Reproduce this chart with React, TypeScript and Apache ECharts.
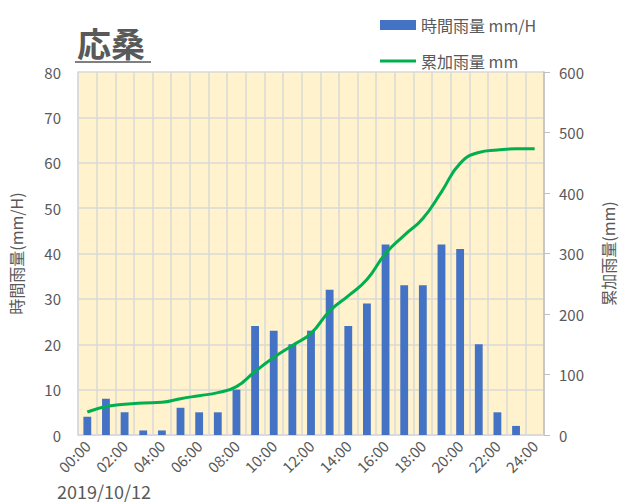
import React, { useEffect, useRef } from "react";
import * as echarts from "echarts";

const hours = [
  "00:00", "01:00", "02:00", "03:00", "04:00", "05:00", "06:00", "07:00", "08:00",
  "09:00", "10:00", "11:00", "12:00", "13:00", "14:00", "15:00", "16:00", "17:00",
  "18:00", "19:00", "20:00", "21:00", "22:00", "23:00", "24:00",
];
const hourlyRain = [4, 8, 5, 1, 1, 6, 5, 5, 10, 24, 23, 20, 23, 32, 24, 29, 42, 33, 33, 42, 41, 20, 5, 2, null];
const cumulativeRain = [38, 47, 51, 53, 54, 60, 65, 70, 80, 105, 128, 148, 168, 205, 230, 257, 300, 330, 358, 402, 449, 467, 471, 473, 473];

const FONT = '"Noto Sans CJK JP", "Noto Sans", sans-serif';
const GRAY = "#595959";
const GRID = "#d9d9d9";

export default function App() {
  const ref = useRef<HTMLDivElement>(null);
  useEffect(() => {
    if (!ref.current) return;
    const chart = echarts.init(ref.current, null, { renderer: "svg" });
    chart.setOption({
      animation: false,
      backgroundColor: "#ffffff",
      textStyle: { fontFamily: FONT },
      title: {
        text: "応桑",
        left: 72,
        top: 20,
        textStyle: { fontFamily: FONT, fontSize: 34, fontWeight: "bold", color: GRAY },
      },
      graphic: [
        { type: "rect", shape: { x: 75, y: 61, width: 76, height: 2 }, style: { fill: "#7f7f7f" } },
        {
          type: "text",
          x: 57,
          y: 481,
          style: { text: "2019/10/12", font: `18px ${FONT}`, fill: GRAY, verticalAlign: "top", lineHeight: 20 },
        },
      ],
      legend: [
        {
          data: [{ name: "時間雨量 mm/H", icon: "rect" }],
          left: 380,
          top: 17,
          padding: 0,
          itemWidth: 36,
          itemHeight: 10,
          itemGap: 4,
          textStyle: { fontFamily: FONT, fontSize: 16, color: GRAY, padding: [0, 0, 0, 0] },
        },
        {
          data: [{ name: "累加雨量 mm", icon: "path://M0,0H36V3H0Z" }],
          left: 380,
          top: 53,
          padding: 0,
          itemWidth: 36,
          itemHeight: 3,
          itemGap: 4,
          textStyle: { fontFamily: FONT, fontSize: 16, color: GRAY },
        },
      ],
      grid: {
        left: 70,
        right: 80,
        top: 72,
        bottom: 69,
        show: true,
        backgroundColor: "#fff2cc",
        borderWidth: 0,
      },
      xAxis: {
        type: "category",
        data: hours,
        boundaryGap: true,
        axisLine: { show: true, lineStyle: { color: GRID, width: 1.5 } },
        axisTick: { show: false },
        splitLine: { show: true, interval: 0, lineStyle: { color: GRID, width: 1.5 } },
        axisLabel: {
          interval: 1,
          rotate: 45,
          color: GRAY,
          fontSize: 15,
          fontFamily: FONT,
          margin: 8,
        },
      },
      yAxis: [
        {
          type: "value",
          min: 0,
          max: 80,
          interval: 10,
          name: "時間雨量(mm/H)",
          nameLocation: "middle",
          nameRotate: 90,
          nameGap: 54,
          nameTextStyle: { color: GRAY, fontSize: 16, fontFamily: FONT },
          axisLine: { show: true, lineStyle: { color: GRID, width: 1.5 } },
          axisTick: { show: false },
          splitLine: { show: true, lineStyle: { color: GRID, width: 1.5 } },
          axisLabel: { color: GRAY, fontSize: 15, fontFamily: FONT, margin: 17 },
        },
        {
          type: "value",
          min: 0,
          max: 600,
          interval: 100,
          position: "right",
          name: "累加雨量(mm)",
          nameLocation: "middle",
          nameRotate: 90,
          nameGap: 56,
          nameTextStyle: { color: GRAY, fontSize: 16, fontFamily: FONT },
          axisLine: { show: true, lineStyle: { color: "#bfbfbf", width: 1.5 } },
          axisTick: { show: true, length: 6, lineStyle: { color: "#bfbfbf" } },
          splitLine: { show: false },
          axisLabel: { color: GRAY, fontSize: 15, fontFamily: FONT, margin: 15 },
        },
      ],
      series: [
        {
          name: "時間雨量 mm/H",
          type: "bar",
          data: hourlyRain,
          barWidth: "42%",
          itemStyle: { color: "#4472c4" },
        },
        {
          name: "累加雨量 mm",
          type: "line",
          yAxisIndex: 1,
          data: cumulativeRain,
          smooth: true,
          symbol: "none",
          lineStyle: { color: "#00b050", width: 3 },
          itemStyle: { color: "#00b050" },
        },
      ],
    });
    return () => chart.dispose();
  }, []);
  return <div ref={ref} style={{ width: 624, height: 504, position: "absolute", left: 0, top: 0 }} />;
}
